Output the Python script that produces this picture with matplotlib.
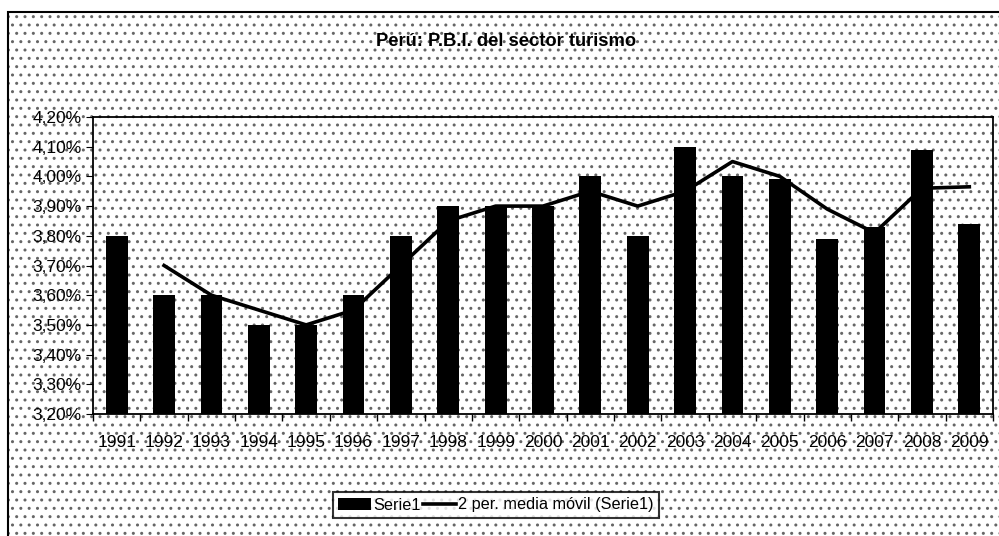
import numpy as np
import matplotlib.pyplot as plt
from matplotlib.patches import Rectangle

plt.rcParams['font.family'] = ['Liberation Sans', 'DejaVu Sans']

# datos
years = ['1991', '1992', '1993', '1994', '1995', '1996', '1997', '1998', '1999', '2000',
         '2001', '2002', '2003', '2004', '2005', '2006', '2007', '2008', '2009']
serie1 = [3.80, 3.60, 3.60, 3.50, 3.50, 3.60, 3.80, 3.90, 3.90, 3.90,
          4.00, 3.80, 4.10, 4.00, 3.99, 3.79, 3.83, 4.09, 3.84]
# media movil de 2 periodos (empieza en 1992)
media_movil = [np.nan, 3.70, 3.60, 3.55, 3.50, 3.55, 3.70, 3.85, 3.90, 3.90,
               3.95, 3.90, 3.95, 4.05, 4.00, 3.89, 3.81, 3.96, 3.965]
yticks = [3.20, 3.30, 3.40, 3.50, 3.60, 3.70, 3.80, 3.90, 4.00, 4.10, 4.20]

W, H = 999, 536
fig = plt.figure(figsize=(W / 100, H / 100), dpi=100)

# fondo punteado del area del grafico (el marco sigue fuera de la imagen a la derecha y abajo)
bg = Rectangle((8 / W, -0.01), 1.0, (H - 12) / H + 0.01, transform=fig.transFigure,
               facecolor='white', edgecolor='#666666', hatch='..', linewidth=0, zorder=-5)
fig.patches.append(bg)
frame = Rectangle((8 / W, -0.01), 1.0, (H - 12) / H + 0.01, transform=fig.transFigure,
                  facecolor='none', edgecolor='black', linewidth=1.5, zorder=-4)
fig.patches.append(frame)

ax = fig.add_axes([93 / W, 1 - 414 / H, 900 / W, (414 - 117) / H])
ax.patch.set_facecolor('white')
ax.patch.set_edgecolor('#666666')
ax.patch.set_hatch('..')
ax.patch.set_linewidth(0)

x = np.arange(len(years))
bars = ax.bar(x, serie1, width=0.46, color='black', label='Serie1', zorder=3)
line, = ax.plot(x, media_movil, color='black', linewidth=2.6,
                label='2 per. media móvil (Serie1)', zorder=4)

ax.set_xlim(-0.5, len(years) - 0.5)
ax.set_ylim(3.20, 4.20)
ax.set_yticks(yticks)
ax.set_yticklabels([f'{v:.2f}%'.replace('.', ',') for v in yticks])
ax.set_xticks(x)
ax.set_xticklabels(years)
ax.set_xticks(np.arange(-0.5, len(years)), minor=True)
ax.tick_params(axis='x', which='major', length=0, pad=15, labelsize=12.5)
ax.tick_params(axis='x', which='minor', length=5, direction='out', width=1)
ax.tick_params(axis='y', length=5, direction='out', labelsize=12.5, pad=3)

for s in ax.spines.values():
    s.set_linewidth(1.3)
    s.set_color('black')

fig.text(506 / W, 1 - 41 / H, 'Perú: P.B.I. del sector turismo', ha='center', va='center',
         fontsize=13.2, fontweight='bold')

leg = fig.legend([bars, line], ['Serie1', '2 per. media móvil (Serie1)'],
                 loc='center', bbox_to_anchor=(496 / W, 1 - 505 / H), ncol=2,
                 frameon=True, fancybox=False, fontsize=11.7, handlelength=2.0,
                 columnspacing=0.15, handletextpad=0.15, borderpad=0.35,
                 borderaxespad=0)
leg.get_frame().set_edgecolor('black')
leg.get_frame().set_linewidth(1.5)

fig.savefig('out.png', dpi=100)
